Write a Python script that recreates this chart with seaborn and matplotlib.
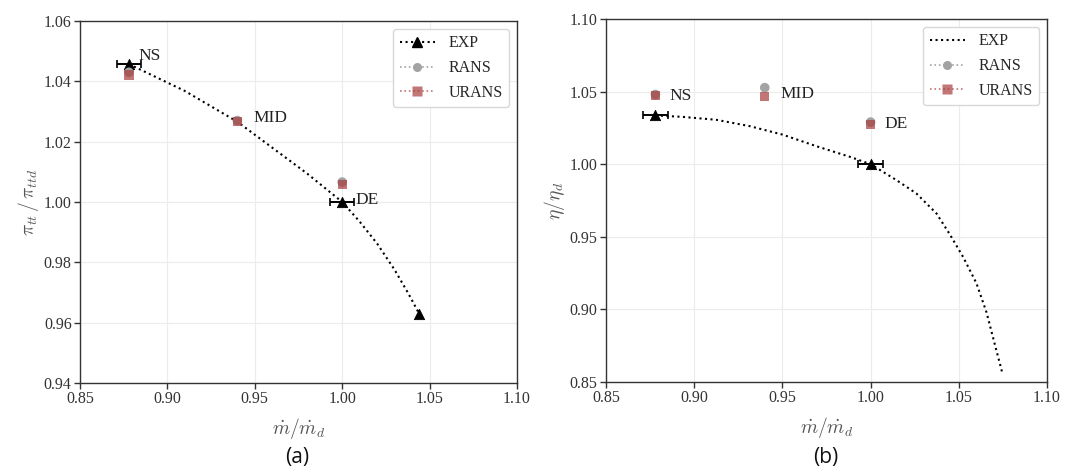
import numpy as np
import pandas as pd
import matplotlib
matplotlib.use("Agg")
import matplotlib.pyplot as plt
import seaborn as sns
from matplotlib.lines import Line2D

# ---------------- data ----------------
# panel (a): total pressure ratio
exp_curve_a_x = [0.878, 0.91, 0.94, 0.96, 0.98, 1.0, 1.01, 1.02, 1.03, 1.038, 1.044]
exp_curve_a_y = [1.0457, 1.0368, 1.0266, 1.0180, 1.0094, 1.0, 0.9935, 0.9862, 0.9775, 0.9695, 0.963]
exp_pts_a_x = [0.878, 1.0, 1.044]
exp_pts_a_y = [1.0457, 1.0, 0.963]
exp_err_a = [0.007, 0.007, 0.0]

rans_a_x = [0.878, 0.94, 1.0]
rans_a_y = [1.0430, 1.0270, 1.0066]
urans_a_x = [0.878, 0.94, 1.0]
urans_a_y = [1.0421, 1.0266, 1.0058]

# panel (b): efficiency ratio
exp_curve_b_x = [0.878, 0.8933, 0.9124, 0.9315, 0.95, 0.9695, 0.9885, 1.0, 1.0147,
                 1.026, 1.0374, 1.045, 1.0525, 1.06, 1.0657, 1.0704, 1.0745]
exp_curve_b_y = [1.0336, 1.0326, 1.0306, 1.0262, 1.0204, 1.0123, 1.0050, 1.0, 0.989,
                 0.9798, 0.966, 0.9515, 0.936, 0.918, 0.898, 0.876, 0.857]
exp_pts_b_x = [0.878, 1.0]
exp_pts_b_y = [1.0336, 1.0]
exp_err_b = [0.007, 0.007]

rans_b_x = [0.878, 0.94, 1.0]
rans_b_y = [1.0480, 1.0527, 1.0290]
urans_b_x = [0.878, 0.94, 1.0]
urans_b_y = [1.0475, 1.0465, 1.0274]

point_labels = ["NS", "MID", "DE"]
xticks = [0.85, 0.90, 0.95, 1.00, 1.05, 1.10]
yticks_a = [0.94, 0.96, 0.98, 1.00, 1.02, 1.04, 1.06]
yticks_b = [0.85, 0.90, 0.95, 1.00, 1.05, 1.10]

# ---------------- style ----------------
sns.set_theme(style="whitegrid")
plt.rcParams["font.family"] = ["Liberation Serif", "DejaVu Serif"]
plt.rcParams["mathtext.fontset"] = "cm"

RANS_C = "#a3a3a3"
URANS_C = "#a83c3c"
SPINE_C = "#333333"
W, H = 1073, 472

fig = plt.figure(figsize=(W / 100, H / 100), dpi=100)
axa = fig.add_axes([80 / W, 1 - 383 / H, (517 - 80) / W, (383 - 21) / H])
axb = fig.add_axes([606 / W, 1 - 382 / H, (1047 - 606) / W, (382 - 19) / H])


def style_ax(ax, yticks, ylabel):
    ax.set_xlim(0.85, 1.10)
    ax.set_ylim(yticks[0], yticks[-1])
    ax.set_xticks(xticks)
    ax.set_yticks(yticks)
    ax.set_xticklabels([f"{v:.2f}" for v in xticks])
    ax.set_yticklabels([f"{v:.2f}" for v in yticks])
    ax.grid(True, color="#ececec", linewidth=0.8)
    ax.set_axisbelow(True)
    ax.set_facecolor("white")
    for s in ax.spines.values():
        s.set_color(SPINE_C)
        s.set_linewidth(1.0)
    ax.tick_params(axis="both", which="both", direction="out", length=4,
                   width=1, color=SPINE_C, labelsize=11.5, labelcolor="#333333",
                   left=True, bottom=True, pad=2)
    ax.set_xlabel(r"$\dot{m}/\dot{m}_d$", fontsize=14, color="#555555", labelpad=6)
    ax.set_ylabel(ylabel, fontsize=14, color="#555555", labelpad=2)


def add_legend(ax, exp_marker):
    handles = [
        Line2D([], [], color="black", linestyle=":", linewidth=1.5,
               marker=exp_marker, markersize=6.5, label="EXP"),
        Line2D([], [], color=RANS_C, linestyle=":", linewidth=1.2, marker="o",
               markersize=6.5, markeredgecolor="none", label="RANS"),
        Line2D([], [], color=URANS_C, linestyle=":", linewidth=1.2, marker="s",
               markersize=6.5, markeredgecolor="none", alpha=0.7, label="URANS"),
    ]
    leg = ax.legend(handles=handles, loc="upper right", fontsize=11.5,
                    frameon=True, fancybox=True, handlelength=2.2,
                    borderpad=0.4, labelspacing=0.55, handletextpad=0.85,
                    borderaxespad=0.5)
    leg.get_frame().set_edgecolor("#d8d8d8")
    leg.get_frame().set_facecolor("white")
    leg.get_frame().set_alpha(1)


def draw_panel(ax, cx, cy, px, py, perr, rx, ry, ux, uy, labels_xy):
    df = pd.DataFrame({"x": cx, "y": cy})
    sns.lineplot(data=df, x="x", y="y", ax=ax, color="black", linestyle=":",
                 linewidth=1.5, zorder=2, legend=False, sort=False)
    ax.errorbar(px, py, xerr=perr, fmt="none", ecolor="black", elinewidth=1.4,
                capsize=3, capthick=1.2, zorder=3)
    sns.scatterplot(x=px, y=py, ax=ax, marker="^", s=55, color="black",
                    edgecolor="black", zorder=4, legend=False)
    sns.scatterplot(x=rx, y=ry, ax=ax, marker="o", s=48, color=RANS_C,
                    edgecolor="none", zorder=5, legend=False)
    sns.scatterplot(x=ux, y=uy, ax=ax, marker="s", s=45, color=URANS_C,
                    edgecolor="none", alpha=0.7, zorder=6, legend=False)
    for (x, y), t in zip(labels_xy, point_labels):
        ax.text(x, y, t, fontsize=12.5, color="#222222", va="center",
                ha="left", zorder=7)


# ---- panel (a)
draw_panel(axa, exp_curve_a_x, exp_curve_a_y, exp_pts_a_x, exp_pts_a_y, exp_err_a,
           rans_a_x, rans_a_y, urans_a_x, urans_a_y,
           [(0.8835, 1.0485), (0.9495, 1.0280), (1.0075, 1.0005)])
style_ax(axa, yticks_a, r"$\pi_{tt}\,/\,\pi_{ttd}$")
add_legend(axa, "^")

# ---- panel (b)
draw_panel(axb, exp_curve_b_x, exp_curve_b_y, exp_pts_b_x, exp_pts_b_y, exp_err_b,
           rans_b_x, rans_b_y, urans_b_x, urans_b_y,
           [(0.8860, 1.0470), (0.9490, 1.0485), (1.0080, 1.0280)])
style_ax(axb, yticks_b, r"$\eta/\eta_d$")
add_legend(axb, None)

# captions
fig.text(297 / W, 1 - 458 / H, "(a)", ha="center", va="center", fontsize=15,
         family=["Open Sans", "DejaVu Sans"], color="#111111")
fig.text(826 / W, 1 - 458 / H, "(b)", ha="center", va="center", fontsize=15,
         family=["Open Sans", "DejaVu Sans"], color="#111111")

fig.savefig("out.png", dpi=100, facecolor="white")
